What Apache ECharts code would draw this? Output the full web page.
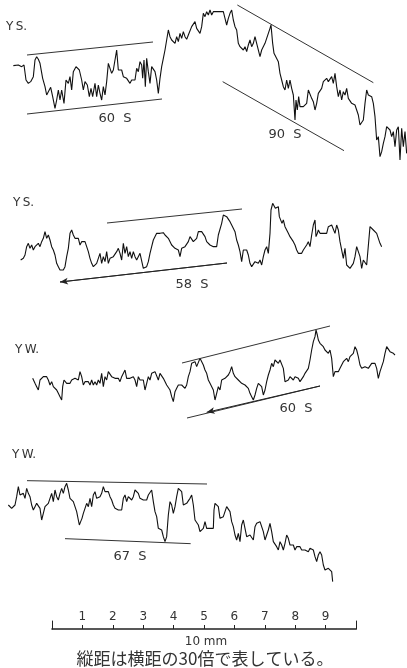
<!DOCTYPE html>
<html><head><meta charset="utf-8">
<script src="https://cdn.jsdelivr.net/npm/echarts@6/dist/echarts.min.js"></script>
<style>html,body{margin:0;padding:0;background:#fff}#c{width:407px;height:668px}</style>
</head><body><div id="c"></div>
<script>
// Traces: [position along record, trace reading] (reading grows downward)
const ysTrace1 = [[40,197],[55,195],[65,200],[72,195],[78,240],[85,250],[92,245],[100,230],[105,180],[110,170],[115,178],[120,190],[128,235],[135,260],[140,285],[145,275],[152,262],[158,290],[165,325],[170,300],[175,270],[180,300],[185,270],[192,310],[198,240],[205,250],[210,230],[215,270],[220,215],[228,200],[233,195],[238,210],[245,240],[250,270],[255,245],[262,255],[268,290],[273,265],[278,290],[285,250],[290,290],[295,255],[300,280],[305,300],[310,260],[315,285],[320,245],[325,190],[330,195],[335,220],[340,210],[345,215],[350,150],[355,210],[360,215],[365,210],[370,230],[375,225],[380,235],[385,235],[390,250],[395,240],[400,245],[405,240],[410,205],[415,215],[420,185],[425,195],[428,235],[432,180],[436,260],[440,175],[445,215],[450,250],[455,200],[460,195],[465,215],[470,240],[475,280],[480,235],[485,200],[490,175],[495,150],[500,120],[505,90],[510,110],[515,120],[520,115],[525,130],[530,110],[535,125],[540,100],[545,115],[550,95],[555,110],[560,118],[565,105],[570,110],[575,80],[580,75],[585,65],[590,85],[595,80],
[600,100],[605,80],[610,40],[615,50],[620,35],[625,45],[630,30],[635,45],[640,35],[645,30],[650,35],[655,30],[660,35],[665,30],[670,35],[675,55],[680,75],[685,55],[690,40],[695,30],[700,60],[705,80],[710,90],[715,130],[720,140],[725,135],[730,150],[735,140],[740,155],[745,135],[750,120],[755,140],[760,130],[765,110],[770,130],[775,125],[780,170],[785,150],[790,145],[795,130],[800,115],[805,100],[810,85],[813,75],[818,130],[822,160],[828,165],[835,185],[840,220],[845,240],[850,260],[855,270],[860,240],[865,265],[870,240],[875,265],[880,285],[885,360],[888,300],[892,330],[896,290],[900,320],[905,325],[910,320],[915,315],[920,310],[925,270],[930,265],[935,295],[940,305],[945,330],[950,310],[955,280],[960,275],[965,265],[970,245],[975,240],[980,235],[985,245],[990,240],[995,230],[1000,250],[1005,220],[1010,260],[1015,290],[1020,270],[1025,300],[1030,275],[1035,285],[1040,265],[1045,295],[1050,300],[1055,310],[1060,305],[1065,315],[1070,330],[1075,345],[1080,375],[1085,370],[1090,360],[1095,310],[1100,270],[1105,285],[1110,290],[1115,290],[1120,310],[1125,350],[1130,420],[1135,410],[1140,470],[1145,455],[1150,430],[1155,410],[1160,380],[1165,375],[1170,390],[1175,410],[1180,395],[1185,440],[1190,390],[1195,380],[1200,480],[1205,385],[1210,440],[1215,395],[1220,460]];

const ysTrace2 = [[62,240],[70,235],[75,225],[80,200],[85,190],[90,205],[95,195],[100,210],[105,200],[110,205],[115,190],[120,200],[125,185],[130,175],[135,155],[140,175],[145,165],[150,180],[155,200],[160,210],[165,225],[170,250],[175,260],[180,270],[185,265],[190,270],[195,260],[200,230],[205,205],[210,160],[215,150],[220,165],[225,175],[230,180],[235,175],[240,195],[245,185],[250,180],[255,185],[260,200],[265,215],[270,235],[275,250],[280,260],[285,255],[290,250],[295,245],[300,220],[305,250],[310,230],[315,245],[320,215],[325,250],[330,235],[335,240],[340,230],[345,235],[350,215],[355,205],[360,220],[365,240],[370,190],[375,220],[380,200],[385,230],[390,215],[395,235],[400,215],[405,230],[410,240],[415,245],[420,220],[425,215],[430,265],[435,260],[440,260],[445,245],[450,220],[455,200],[460,180],[465,175],[470,160],[475,155],[480,160],[485,160],[490,158],[495,165],[500,165],[505,175],[510,180],[515,195],[520,200],[525,205],[530,205],[535,210],[540,230],[545,205],[550,210],[555,200],[560,195],[565,185],[570,170],[575,165],[580,185],[585,180],[590,175],[595,155],
[600,150],[605,155],[610,160],[615,170],[620,185],[625,190],[630,195],[635,195],[640,200],[645,195],[650,200],[655,165],[660,160],[665,130],[670,105],[675,100],[680,110],[685,110],[690,125],[695,135],[700,140],[705,155],[710,180],[715,195],[720,215],[725,245],[730,210],[735,205],[740,210],[745,225],[750,250],[755,260],[760,255],[765,245],[770,240],[775,250],[780,240],[785,255],[790,230],[795,210],[800,200],[805,220],[810,160],[813,90],[818,70],[822,65],[826,85],[830,90],[835,80],[838,110],[842,105],[846,130],[850,120],[855,140],[860,135],[865,160],[870,170],[875,175],[880,185],[885,195],[890,210],[895,220],[900,220],[905,220],[910,210],[915,205],[920,195],[925,185],[930,200],[935,165],[940,135],[945,120],[948,170],[952,160],[955,150],[960,160],[965,155],[970,160],[975,165],[980,160],[985,140],[990,145],[995,135],[1000,140],[1005,160],[1010,135],[1015,150],[1020,185],[1025,190],[1030,235],[1035,205],[1040,255],[1045,260],[1050,265],[1055,270],[1060,250],[1065,230],[1070,200],[1075,215],[1080,230],[1085,265],[1090,240],[1095,245],[1100,255],[1105,250],[1110,140],[1115,145],[1120,150],[1125,150],[1130,160],[1135,165],[1140,190],[1145,200]];

const ywTrace1 = [[98,205],[105,220],[110,230],[115,240],[120,210],[125,205],[130,200],[135,205],[140,200],[145,210],[150,225],[155,215],[160,230],[165,235],[170,240],[175,250],[180,260],[185,270],[188,230],[192,210],[196,215],[200,220],[205,225],[210,220],[215,210],[220,215],[225,205],[230,200],[235,210],[240,185],[245,200],[250,225],[255,215],[260,220],[265,215],[270,225],[275,210],[280,225],[285,215],[290,225],[295,210],[300,220],[305,190],[310,230],[315,200],[320,210],[325,185],[330,190],[335,200],[340,195],[345,205],[350,210],[355,205],[360,215],[365,200],[370,195],[375,180],[380,205],[385,210],[390,205],[395,210],[400,200],[405,210],[410,230],[415,200],[420,210],[425,205],[430,210],[435,240],[440,220],[445,200],[450,210],[455,190],[460,195],[465,185],[470,190],[475,210],[480,190],[485,195],[490,205],[495,210],[500,225],[505,230],[510,240],[515,260],[520,275],[525,245],[530,235],[535,225],[540,230],[545,225],[550,230],[555,235],[560,225],[565,200],[570,185],[575,160],[580,165],[585,155],[590,170],[595,175],
[600,145],[605,150],[610,165],[615,180],[620,190],[625,210],[630,220],[635,215],[640,240],[645,270],[650,250],[655,230],[660,240],[665,210],[670,215],[675,205],[680,210],[685,195],[690,185],[695,170],[700,190],[705,200],[710,195],[715,210],[720,215],[725,220],[730,215],[735,225],[740,230],[745,235],[750,250],[755,260],[760,270],[765,255],[770,235],[775,220],[780,215],[785,230],[790,255],[795,240],[800,215],[805,195],[810,180],[815,160],[820,170],[825,150],[830,155],[835,160],[840,150],[845,155],[850,175],[855,215],[860,215],[865,210],[870,200],[875,195],[880,210],[885,200],[890,195],[895,205],[900,215],[905,210],[910,200],[915,190],[920,185],[925,175],[930,150],[935,120],[940,95],[945,80],[948,60],[952,75],[955,90],[960,100],[965,95],[970,110],[975,120],[980,115],[985,130],[990,120],[995,145],[1000,200],[1005,185],[1010,180],[1015,185],[1020,175],[1025,165],[1030,155],[1035,150],[1040,145],[1045,155],[1050,140],[1055,145],[1060,130],[1065,110],[1070,120],[1075,140],[1080,165],[1085,175],[1090,175],[1095,170],[1100,175],[1105,175],[1110,170],[1115,160],[1120,165],[1125,160],[1130,175],[1135,205],[1140,185],[1145,170],[1150,155],[1155,130],[1160,110],[1165,110],[1170,125],[1175,125],[1180,130],[1185,135]];

const ywTrace2 = [[25,195],[30,200],[35,205],[40,200],[45,195],[50,170],[55,140],[60,165],[65,170],[70,160],[75,175],[80,145],[85,160],[90,170],[95,195],[100,210],[105,200],[110,190],[115,185],[120,205],[125,240],[130,220],[135,200],[140,195],[145,190],[150,185],[155,160],[160,185],[165,150],[170,170],[175,180],[180,160],[185,145],[190,160],[195,140],[200,130],[205,150],[210,175],[215,175],[220,185],[225,200],[230,215],[235,240],[238,255],[242,245],[246,235],[250,220],[255,205],[260,190],[265,200],[270,175],[275,200],[280,165],[285,155],[290,175],[295,180],[300,170],[305,160],[310,140],[315,155],[320,150],[325,155],[330,170],[335,180],[340,195],[345,205],[350,200],[355,210],[360,205],[365,210],[370,175],[375,165],[380,185],[385,170],[390,175],[395,180],[400,170],[405,150],[410,145],[415,160],[420,175],[425,180],[430,180],[435,175],[440,180],[445,165],[450,160],[455,150],[460,185],[465,215],[470,230],[475,265],[480,260],[485,270],[490,290],[495,305],[500,290],[505,225],[510,185],[515,195],[520,220],[525,200],[530,170],[535,145],[540,140],[545,155],[550,195],[555,190],[560,190],[565,185],[570,175],[575,165],[580,195],[585,240],[590,235],[595,255],
[600,275],[605,275],[610,265],[615,245],[620,265],[625,270],[630,265],[635,270],[640,265],[642,210],[645,190],[650,185],[655,200],[660,235],[665,240],[670,230],[675,215],[680,200],[685,205],[690,215],[695,245],[700,260],[705,285],[710,300],[715,280],[720,305],[725,255],[730,240],[735,265],[740,290],[745,295],[750,285],[755,290],[760,300],[765,260],[770,250],[775,250],[780,245],[785,250],[790,275],[795,300],[800,285],[805,270],[810,250],[815,275],[820,305],[825,310],[830,320],[835,330],[840,305],[845,315],[850,330],[855,310],[860,285],[865,295],[870,315],[875,320],[880,315],[885,330],[890,320],[895,325],[900,320],[905,330],[910,325],[915,330],[920,330],[925,335],[930,325],[935,330],[940,330],[945,350],[950,365],[955,345],[960,335],[965,345],[970,375],[975,390],[980,385],[985,385],[990,390],[995,395],[998,425]];

// Envelope (trend) lines, same units
const ys1Envelopes = [[[81,165],[459,126]], [[81,342],[486,297]], [[712,15],[1120,248]], [[668,245],[1032,452]]];
const ys2Envelopes = [[[321,129],[726,87]], [[180,306],[681,249]]];
const yw1Envelopes = [[[546,159],[990,48]], [[561,324],[960,228]]];
const yw2Envelopes = [[[81,122],[621,132]], [[195,296],[572,311]]];
// Arrow marks on envelopes
const ys2Arrow = [[180,306],[681,249]];
const yw1Arrow = [[620,307],[960,228]];

const scaleTicks = [0,1,2,3,4,5,6,7,8,9,10];
const scaleUnit = '10 mm';
const caption = '縦距は横距の30倍で表している。';
const panelNames = ['Y\u2009S.', 'Y\u2009S.', 'Y\u2009W.', 'Y\u2009W.'];
const periodLabels = ['60  S', '90  S', '58  S', '60  S', '67  S'];

const chart = echarts.init(document.getElementById('c'), null, {renderer:'canvas'});
const panels = [
  {top:0, h:170}, {top:180, h:120}, {top:310, h:120}, {top:440, h:150}
];
const traces = [ysTrace1, ysTrace2, ywTrace1, ywTrace2];
const envs = [ys1Envelopes, ys2Envelopes, yw1Envelopes, yw2Envelopes];

const grid = panels.map(p => ({left:0, right:0, top:p.top, height:p.h}));
grid.push({left:52, right:51, top:621, height:8});
const xAxis = panels.map((p,i) => ({type:'value', gridIndex:i, min:0, max:1221, show:false}));
xAxis.push({type:'value', gridIndex:4, min:scaleTicks[0], max:scaleTicks[scaleTicks.length-1], interval:1, position:'bottom',
  axisLine:{show:true, lineStyle:{color:'#222', width:1.6}},
  axisTick:{show:true, inside:true, length:4, lineStyle:{color:'#222', width:1}},
  axisLabel:{show:true, inside:true, margin:6, fontSize:12, color:'#333', fontFamily:'DejaVu Sans',
    formatter: v => (v===0||v===10) ? '' : String(v)},
  splitLine:{show:false}});
const yAxis = panels.map((p,i) => ({type:'value', gridIndex:i, min:0, max:p.h*3, inverse:true, show:false}));
yAxis.push({type:'value', gridIndex:4, min:0, max:1, position:'left', axisLine:{show:true, lineStyle:{color:'#222', width:1}}, axisTick:{show:false}, axisLabel:{show:false}, splitLine:{show:false}});
yAxis.push({type:'value', gridIndex:4, min:0, max:1, position:'right', axisLine:{show:true, lineStyle:{color:'#222', width:1}}, axisTick:{show:false}, axisLabel:{show:false}, splitLine:{show:false}});

const series = [];
traces.forEach((t,i) => {
  series.push({type:'line', xAxisIndex:i, yAxisIndex:i, data:t, showSymbol:false, clip:false,
    lineStyle:{color:'#111', width:1.1}, silent:true});
  envs[i].forEach(e => series.push({type:'line', xAxisIndex:i, yAxisIndex:i, data:e, showSymbol:false, clip:false,
    lineStyle:{color:'#333', width:1}, silent:true}));
});
function arrow(idx, seg){
  return {type:'line', xAxisIndex:idx, yAxisIndex:idx, data:[], silent:true,
    markLine:{silent:true, animation:false, symbol:['arrow','none'], symbolSize:[5,8], label:{show:false},
      lineStyle:{color:'#222', width:1, type:'solid'},
      data:[[{coord:seg[0]},{coord:seg[1]}]]}};
}
series.push(arrow(1, ys2Arrow));
series.push(arrow(2, yw1Arrow));
series.push({type:'line', xAxisIndex:4, yAxisIndex:5, data:[], silent:true});

function txt(s, x, y, size, align, fam){
  return {type:'text', x:x, y:y, silent:true, style:{text:s, fontSize:size, fill:'#333',
    fontFamily:fam||'DejaVu Sans', textAlign:align||'center', textVerticalAlign:'middle'}};
}
const graphic = [
  txt(panelNames[0], 6, 27, 12, 'left'),
  txt(periodLabels[0], 115, 119, 13),
  txt(periodLabels[1], 285, 135, 13),
  txt(panelNames[1], 13, 203, 12, 'left'),
  txt(periodLabels[2], 192, 285, 13),
  txt(panelNames[2], 15, 350, 12, 'left'),
  txt(periodLabels[3], 296, 409, 13),
  txt(panelNames[3], 12, 455, 12, 'left'),
  txt(periodLabels[4], 130, 557, 13),
  txt(scaleUnit, 206, 642, 12),
  txt(caption, 205, 659, 17, 'center', 'Noto Sans CJK JP')
];

chart.setOption({animation:false, backgroundColor:'#fff', grid, xAxis, yAxis, series, graphic});
</script></body></html>
